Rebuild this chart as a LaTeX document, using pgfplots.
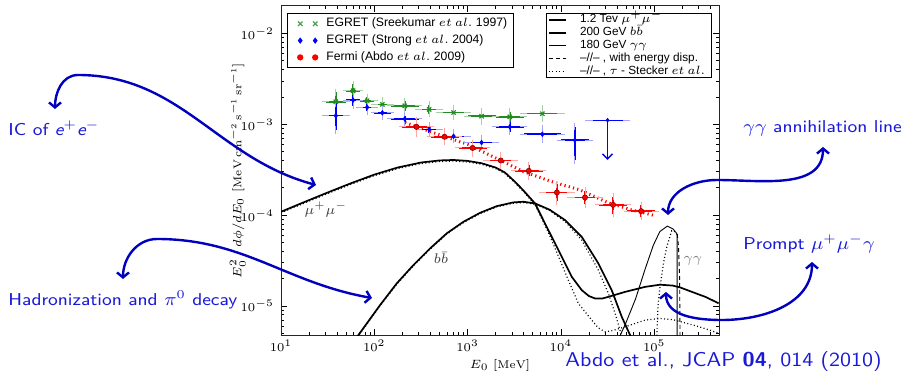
\documentclass[border=0pt]{standalone}
\usepackage{fontspec}
\usepackage{pgfplots}
\pgfplotsset{compat=1.18}
\usetikzlibrary{arrows.meta}
\newfontfamily\legfont{Liberation Sans}
\definecolor{cgreen}{rgb}{0.13,0.55,0.13}
\definecolor{cblue}{rgb}{0,0,1}
\definecolor{cred}{rgb}{1,0,0}
\definecolor{annblue}{RGB}{25,25,215}
\definecolor{arrblue}{RGB}{0,0,190}
\pgfplotsset{
  ebar/.style 2 args={error bars/.cd, x dir=both, x explicit, y dir=both, y explicit,
    error bar style={line width=0.75pt, draw=#1},
    error mark options={draw=#2, line width=0.5pt, mark size=1.8pt}},
}
\begin{document}
\begin{tikzpicture}[x=0.5pt,y=0.5pt]
\path[use as bounding box] (0,0) rectangle (907,374);
\begin{axis}[
  at={(140.5pt,19.5pt)}, anchor=south west, scale only axis,
  width=219pt, height=164.5pt,
  xmode=log, ymode=log,
  xmin=10, xmax=4.94e5, ymin=4.8e-6, ymax=2.01e-2,
  tick label style={font=\fontsize{5.6}{6}\selectfont},
  label style={font=\fontsize{5.6}{6}\selectfont},
  xlabel={$E_0\ [\mathrm{MeV}]$},
  ylabel={$E_0^2\cdot d\phi/dE_0\ [\mathrm{MeV\,cm^{-2}\,s^{-1}\,sr^{-1}}]$},
  xlabel shift=-3pt, ylabel shift=-9.5pt,
  xticklabel shift=-1pt,
  major tick length=3pt, minor tick length=1.5pt,
  tick style={black, line width=0.4pt},
  axis line style={line width=0.5pt, black!85},
  legend cell align=left,
  legend style={at={(0,1)}, anchor=north west, xshift=2.85pt, yshift=-3.35pt,
    font=\legfont\fontsize{6.1}{7}\selectfont, draw=black, line width=0.5pt,
    inner xsep=1pt, inner ysep=1.1pt,
    nodes={text height=4.7pt, text depth=1.5pt, inner ysep=1.1pt, inner xsep=2pt}},
]
% red dotted trend
\addplot[cred, line width=1.5pt, dash pattern=on 0.6pt off 1.6pt, forget plot] coordinates {
(213.8,1.047e-3) (398.1,8.318e-4) (1000,6.026e-4) (1995,4.266e-4) (3981,3.020e-4)
(7943,2.344e-4) (15850,1.905e-4) (31620,1.380e-4) (56230,1.148e-4) (97720,1.0e-4)};
% mu mu solid
\addplot[black, line width=0.85pt, forget plot] coordinates {
(10,1.091e-4) (17.78,1.396e-4) (31.62,1.778e-4) (56.23,2.249e-4) (100,2.799e-4)
(177.8,3.350e-4) (316.2,3.802e-4) (501.2,4.009e-4) (707.9,4.055e-4) (1000,3.963e-4)
(1413,3.733e-4) (1995,3.350e-4) (2512,2.951e-4) (3221,2.333e-4) (3981,1.862e-4)
(5272,1.349e-4) (7328,6.855e-5) (10210,3.483e-5) (13060,2.099e-5) (16710,1.496e-5)
(19950,1.288e-5) (23170,1.213e-5) (27540,1.208e-5) (32210,1.262e-5) (48640,1.432e-5)
(79620,1.626e-5) (115300,1.718e-5) (158500,1.679e-5) (189200,1.603e-5) (262400,1.413e-5)
(354800,1.259e-5) (489800,1.072e-5)};
% mu mu dotted
\addplot[black, line width=0.6pt, dash pattern=on 0.5pt off 1.2pt, forget plot] coordinates {
(10,1.062e-4) (17.78,1.358e-4) (31.62,1.730e-4) (56.23,2.188e-4) (100,2.723e-4)
(177.8,3.260e-4) (316.2,3.699e-4) (501.2,3.901e-4) (707.9,3.945e-4) (1000,3.856e-4)
(1413,3.632e-4) (1995,3.260e-4) (2512,2.871e-4) (3221,2.270e-4) (3981,1.812e-4)
(5272,1.303e-4) (7328,6.457e-5) (9376,3.548e-5) (12000,1.928e-5) (15380,1.069e-5)
(21380,6.998e-6) (25120,5.754e-6) (29720,5.200e-6) (35480,5.370e-6) (48640,5.902e-6)
(79620,6.998e-6) (115300,7.295e-6) (158500,7.079e-6) (262400,6.166e-6) (354800,5.623e-6)
(489800,5.012e-6)};
% b bbar solid
\addplot[black, line width=0.85pt, forget plot] coordinates {
(60.26,3.981e-6) (67.45,4.786e-6) (115.1,1.023e-5) (173.8,1.774e-5) (261.8,2.818e-5)
(395.4,4.305e-5) (597.0,6.310e-5) (899.5,8.453e-5) (1358,1.062e-4) (2051,1.259e-4)
(3090,1.384e-4) (3954,1.406e-4) (5272,1.349e-4) (7586,1.148e-4) (11070,8.831e-5)
(16710,5.781e-5) (25180,2.944e-5) (34990,1.496e-5) (44870,7.603e-6) (55080,4.786e-6)
(60260,3.802e-6)};
% b bbar dotted
\addplot[black, line width=0.6pt, dash pattern=on 0.5pt off 1.2pt, forget plot] coordinates {
(60.26,3.90e-6) (67.45,4.69e-6) (115.1,1.003e-5) (173.8,1.739e-5) (261.8,2.762e-5)
(395.4,4.219e-5) (597.0,6.184e-5) (899.5,8.284e-5) (1358,1.041e-4) (2051,1.234e-4)
(3090,1.356e-4) (3954,1.378e-4) (5272,1.322e-4) (7586,1.125e-4) (11070,8.511e-5)
(16710,5.321e-5) (25180,2.483e-5) (32210,1.377e-5) (38020,8.318e-6) (42950,5.433e-6)
(45710,3.981e-6)};
% gamma gamma line (thin)
\addplot[black, line width=0.45pt, forget plot] coordinates {
(39810,3.981e-6) (48980,6.310e-6) (63100,1.202e-5) (79430,2.512e-5) (97720,4.677e-5)
(114800,6.607e-5) (138000,7.586e-5) (158500,7.079e-5) (173800,6.310e-5) (175800,6.0e-5)
(175800,3.0e-6)};
% gamma gamma dotted
\addplot[black, line width=0.6pt, dash pattern=on 0.5pt off 1.2pt, forget plot] coordinates {
(105900,3.981e-6) (109600,1.0e-5) (114800,1.585e-5) (125900,3.020e-5) (136100,4.467e-5)
(153800,6.761e-5) (166000,6.607e-5) (173800,6.166e-5)};
% gamma gamma dashed
\addplot[black, line width=0.45pt, dash pattern=on 2pt off 1.5pt, forget plot] coordinates {
(176500,6.2e-5) (182000,4.5e-5) (187000,2.0e-5) (189500,3.0e-6)};
% EGRET Sreekumar
\addplot[forget plot, cgreen, only marks, mark=x, mark size=1.5pt, mark options={line width=0.6pt}, ebar={cgreen}{cgreen!40}]
coordinates {
(38.7,1.774e-3) += (11.3,0.475e-3) -= (8.7,0.397e-3)
(59.2,2.344e-3) += (10.8,0.41e-3) -= (9.2,0.36e-3)
(83.7,1.82e-3) += (16.3,0.17e-3) -= (13.7,0.16e-3)
(122,1.66e-3) += (28,0.15e-3) -= (22,0.14e-3)
(212,1.60e-3) += (88,0.2e-3) -= (62,0.18e-3)
(387,1.46e-3) += (113,0.17e-3) -= (87,0.15e-3)
(707,1.35e-3) += (293,0.16e-3) -= (207,0.14e-3)
(1410,1.23e-3) += (590,0.16e-3) -= (410,0.14e-3)
(2830,1.21e-3) += (1170,0.16e-3) -= (830,0.14e-3)
(6320,1.31e-3) += (3680,0.17e-3) -= (2320,0.15e-3)};
% EGRET Strong
\addplot[forget plot, cblue, only marks, mark=diamond*, mark size=1.1pt, ebar={cblue}{cblue!35}]
coordinates {
(38.7,1.245e-3) += (11.3,0.457e-3) -= (8.7,0.38e-3)
(59.2,1.853e-3) += (10.8,0.23e-3) -= (9.2,0.25e-3)
(83.7,1.54e-3) += (16.3,0.15e-3) -= (13.7,0.14e-3)
(122,1.34e-3) += (28,0.13e-3) -= (22,0.12e-3)
(212,1.15e-3) += (88,0.1e-3) -= (62,0.1e-3)
(387,8.8e-4) += (113,0.8e-4) -= (87,0.75e-4)
(707,7.4e-4) += (293,0.7e-4) -= (207,0.65e-4)
(1410,6.3e-4) += (590,0.7e-4) -= (410,0.65e-4)
(2830,9.4e-4) += (1170,1.3e-4) -= (830,1.1e-4)
(6320,7.8e-4) += (3680,1.2e-4) -= (2320,1.0e-4)
(14100,6.7e-4) += (5900,2.7e-4) -= (4100,2.65e-4)};
% upper limit
\addplot[forget plot, cblue, only marks, mark=diamond*, mark size=0.9pt,
  error bars/.cd, x dir=both, x explicit, error bar style={line width=0.75pt, draw=cblue},
  error mark options={draw=cblue!35, line width=0.5pt, mark size=1.8pt}]
coordinates {(31600,1.11e-3) += (18400,0) -= (11600,0)};
\addplot[forget plot, cblue, line width=0.7pt, -{Straight Barb[length=2.5pt,width=5pt]}]
coordinates {(31600,1.11e-3) (31600,4.07e-4)};
% Fermi
\addplot[forget plot, cred, only marks, mark=*, mark size=1.3pt, mark options={fill=cred, draw=red!55!black, line width=0.3pt}, ebar={cred}{cred!35}]
coordinates {
(283,9.4e-4) += (117,1.7e-4) -= (83,1.4e-4)
(566,7.3e-4) += (234,0.95e-4) -= (166,0.85e-4)
(1131,5.5e-4) += (469,0.7e-4) -= (331,0.65e-4)
(2263,4.0e-4) += (937,0.55e-4) -= (663,0.5e-4)
(4525,3.08e-4) += (1875,0.45e-4) -= (1325,0.4e-4)
(9051,1.78e-4) += (3749,0.42e-4) -= (2651,0.35e-4)
(18102,1.57e-4) += (7498,0.28e-4) -= (5302,0.25e-4)
(36204,1.30e-4) += (14996,0.3e-4) -= (10604,0.26e-4)
(72408,1.11e-4) += (29992,0.17e-4) -= (21208,0.15e-4)};
% legend 1
\addlegendimage{legend image code/.code={\path[draw=none] (0pt,-1pt) rectangle (16.6pt,1pt); \draw[only marks, mark=x, mark size=1.6pt, cgreen!80, line width=0.6pt] plot coordinates {(5.5pt,0pt) (13pt,0pt)};}}
\addlegendentry{EGRET (Sreekumar $et\ al.$ 1997)}
\addlegendimage{legend image code/.code={\path[draw=none] (0pt,-1pt) rectangle (16.6pt,1pt); \draw[only marks, mark=diamond*, mark size=1.2pt, cblue] plot coordinates {(5.5pt,0pt) (13pt,0pt)};}}
\addlegendentry{EGRET (Strong $et\ al.$ 2004)}
\addlegendimage{legend image code/.code={\path[draw=none] (0pt,-1pt) rectangle (16.6pt,1pt); \draw[only marks, mark=*, mark size=1.3pt, cred] plot coordinates {(5.5pt,0pt) (13pt,0pt)};}}
\addlegendentry{Fermi (Abdo $et\ al.$ 2009)}
\end{axis}
\begin{axis}[
  at={(140.5pt,19.5pt)}, anchor=south west, scale only axis,
  width=219pt, height=164.5pt, hide axis,
  xmin=0, xmax=1, ymin=0, ymax=1,
  legend cell align=left,
  legend image code/.code={\path[draw=none] (0pt,-1pt) rectangle (13.5pt,1pt); \draw[#1] (0pt,0pt) -- (8.5pt,0pt);},
  legend style={at={(1,1)}, anchor=north east, xshift=-3.65pt, yshift=-3.35pt,
    font=\legfont\fontsize{5.9}{6.5}\selectfont, draw=black, line width=0.5pt,
    inner xsep=1pt, inner ysep=0.3pt, row sep=0.2pt,
    nodes={text height=4.3pt, text depth=1.3pt, inner ysep=0.3pt, inner xsep=2pt}},
]
\addlegendimage{black, line width=0.85pt}
\addlegendentry{1.2 Tev $\mu^+\mu^-$}
\addlegendimage{black, line width=0.85pt}
\addlegendentry{200 GeV $b\bar{b}$}
\addlegendimage{black, line width=0.45pt}
\addlegendentry{180 GeV $\gamma\gamma$}
\addlegendimage{black, line width=0.45pt, dash pattern=on 2pt off 1.5pt}
\addlegendentry{\textendash//\textendash\ , with energy disp.}
\addlegendimage{black, line width=0.6pt, dash pattern=on 0.5pt off 1.2pt}
\addlegendentry{\textendash//\textendash\ , $\tau$ - Stecker $et\ al.$}
\end{axis}
% labels inside plot
\node[inner sep=0, black!75, font=\fontsize{7}{8}\selectfont] at (326,164) {$\mu^+\mu^-$};
\node[inner sep=0, black!75, font=\fontsize{7}{8}\selectfont] at (441,116) {$b\bar{b}$};
\node[inner sep=0, black!50, font=\fontsize{7}{8}\selectfont] at (693,113) {$\gamma\gamma$};
% annotations
\begin{scope}[annblue, font=\sffamily\fontsize{8.6}{10}\selectfont]
\node[anchor=base west, inner sep=0, xscale=1.1] at (8,238) {IC of {\itshape e}$^{+}${\itshape e}$^{-}$};
\node[anchor=base west, inner sep=0, xscale=1.1] at (8,68) {Hadronization and $\pi^0$ decay};
\node[anchor=base west, inner sep=0, xscale=1.1] at (743,241) {$\gamma\gamma$ annihilation line};
\node[anchor=base west, inner sep=0, xscale=1.1] at (743,124) {Prompt $\mu^+\mu^-\gamma$};
\node[anchor=base west, inner sep=0, xscale=1.1, font=\sffamily\fontsize{10}{11}\selectfont] at (565,7) {Abdo et al., JCAP \textbf{04}, 014 (2010)};
\end{scope}
\begin{scope}[arrblue, line width=1.2pt, {Straight Barb[length=2.5pt,width=6pt]}-{Straight Barb[length=2.5pt,width=6pt]}]
\draw (55,265) to[out=90,in=180] (78,299) to[out=0,in=165] (316,189);
\draw (123,95) to[out=90,in=180] (157,135) to[out=0,in=170] (372,76);
\draw (823,227) to[out=-90,in=0] (717,194) to[out=180,in=90] (668,159);
\draw (812,112) to[out=-90,in=0] (722,54) to[out=180,in=-90] (666,82);
\end{scope}
\end{tikzpicture}
\end{document}
